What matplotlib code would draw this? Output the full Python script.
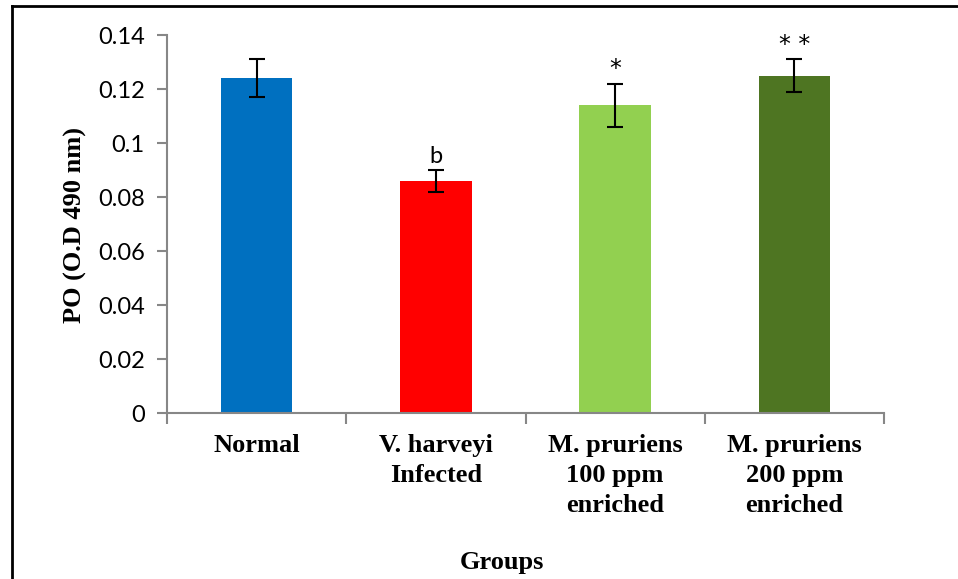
import matplotlib.pyplot as plt
from matplotlib.lines import Line2D
import numpy as np

# PO activity per group
groups = ['Normal', 'V. harveyi\nInfected', 'M. pruriens\n100 ppm\nenriched',
          'M. pruriens\n200 ppm\nenriched']
po_mean = [0.124, 0.086, 0.114, 0.125]
po_err = [0.007, 0.004, 0.008, 0.006]
marks = ['', 'b', '*', '* *']
colors = ['#0070C0', '#FF0000', '#92D050', '#4E7522']

W, H = 958, 579
fig = plt.figure(figsize=(W / 100, H / 100), dpi=100)
ax = fig.add_axes([167 / W, 1 - 413 / H, (884 - 167) / W, (413 - 35) / H])

x = np.arange(len(groups))
ax.bar(x, po_mean, width=0.4, color=colors, zorder=2)
ax.errorbar(x, po_mean, yerr=po_err, fmt='none', ecolor='black',
            elinewidth=1.5, capsize=6, capthick=1.5, zorder=3)

for xi, m, e, t in zip(x, po_mean, po_err, marks):
    if t == 'b':
        ax.text(xi, m + e + 0.0012, t, ha='center', va='bottom',
                fontsize=17, family='Lato')
    elif t:
        ax.text(xi, m + e + 0.0008, t, ha='center', va='bottom',
                fontsize=17, family='DejaVu Sans')

ax.set_xlim(-0.5, len(groups) - 0.5)
ax.set_ylim(0, 0.14)
ax.set_yticks(np.arange(0, 0.141, 0.02))
ax.set_yticklabels(['0', '0.02', '0.04', '0.06', '0.08', '0.1', '0.12', '0.14'],
                   family='Lato', fontsize=17)

# category names centred, tick marks on the boundaries
ax.set_xticks(x)
ax.set_xticklabels(groups, family='Liberation Serif', fontweight='bold',
                   fontsize=19, linespacing=1.38)
ax.tick_params(axis='x', which='major', length=0, pad=15)
ax.set_xticks(np.arange(-0.5, len(groups)), minor=True)
ax.tick_params(axis='x', which='minor', length=8, width=1.5, color='#878787',
               direction='out')
ax.tick_params(axis='y', length=7, width=1.5, color='#878787', pad=9)

for s in ['top', 'right']:
    ax.spines[s].set_visible(False)
for s in ['left', 'bottom']:
    ax.spines[s].set_color('#878787')
    ax.spines[s].set_linewidth(1.5)

fig.text(75 / W, 1 - 225 / H, 'PO (O.D 490 nm)', rotation=90, ha='center',
         va='center', family='Liberation Serif', fontweight='bold', fontsize=19)
fig.text(502 / W, 1 - 563 / H, 'Groups', ha='center', va='center',
         family='Liberation Serif', fontweight='bold', fontsize=19)

# outer frame (left and top edges)
fig.add_artist(Line2D([12 / W, 12 / W], [0, 1 - 6 / H], color='black', lw=2,
                      transform=fig.transFigure))
fig.add_artist(Line2D([12 / W, 1], [1 - 6 / H, 1 - 6 / H], color='black', lw=2,
                      transform=fig.transFigure))

fig.savefig('out.png', dpi=100)
